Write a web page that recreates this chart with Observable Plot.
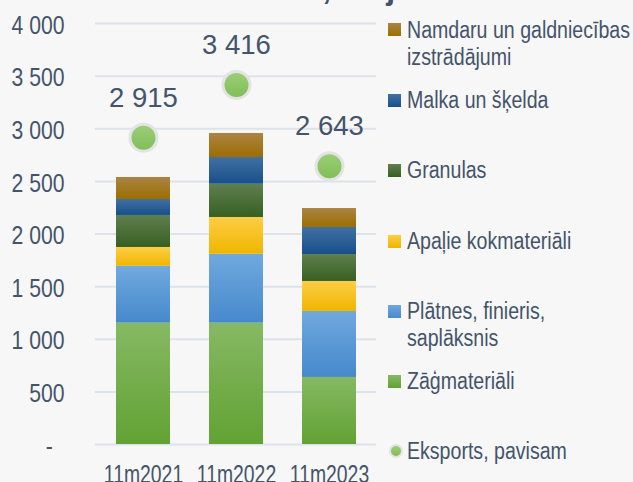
<!DOCTYPE html>
<html><head><meta charset="utf-8">
<script src="https://cdn.jsdelivr.net/npm/d3@7"></script>
<script src="https://cdn.jsdelivr.net/npm/@observablehq/plot@0.6"></script>
<style>
html,body{margin:0;padding:0;background:#f7f7f7;}
#wrap{position:relative;width:633px;height:482px;overflow:hidden;font-family:"Liberation Sans",Arial,sans-serif;color:#44546a;}
#wrap svg{position:absolute;left:0;top:0;}
.title{position:absolute;left:132px;top:-28.1px;font-weight:bold;font-size:32px;line-height:32px;color:#44546a;white-space:nowrap;}
.lg{position:absolute;left:407px;font-size:23.3px;line-height:27px;white-space:nowrap;transform:scaleX(0.84);transform-origin:0 0;}
.sw{position:absolute;left:388px;width:13px;height:13px;}
.dotlg{position:absolute;left:388.5px;width:10px;height:10px;border-radius:50%;border:2px solid #e3e3e3;background:linear-gradient(#9ccf78,#80bd56);}
</style></head><body><div id="wrap"></div>
<script>
const periods = ["11m2021", "11m2022", "11m2023"];
const categories = ["Zāģmateriāli", "Plātnes, finieris, saplāksnis", "Apaļie kokmateriāli", "Granulas", "Malka un šķelda", "Namdaru un galdniecības izstrādājumi"];
const zagmateriali = [1153, 1153, 637];
const platnes = [541, 655, 627];
const apalie = [178, 349, 285];
const granulas = [304, 316, 256];
const malka = [152, 254, 257];
const namdaru = [209, 228, 180];
const eksportsPavisam = [2915, 3416, 2643];
const totalLabel = "Eksports, pavisam";
const yTicks = [0, 500, 1000, 1500, 2000, 2500, 3000, 3500, 4000];
const titleText = "Meža nozare, milj. EUR";

const seriesValues = [zagmateriali, platnes, apalie, granulas, malka, namdaru];
// gradient stops (top, bottom) per category
const gradStops = [
  ["#86b964", "#62a233"],
  ["#70a9de", "#4689cc"],
  ["#ffcd45", "#eeb600"],
  ["#5f7f4f", "#375f22"],
  ["#4170a2", "#17508a"],
  ["#ab8444", "#9b6e00"]
];

const rows = [];
periods.forEach((p, i) => {
  categories.forEach((c, k) => rows.push({period: p, category: c, value: seriesValues[k][i]}));
});
const totals = periods.map((p, i) => ({period: p, value: eksportsPavisam[i]}));

const locale = d3.formatLocale({decimal: ",", thousands: " ", grouping: [3], currency: ["", ""]});
const fmt = locale.format(",");

const wrap = document.getElementById("wrap");

const plot = Plot.plot({
  width: 633, height: 482,
  marginLeft: 95, marginRight: 257, marginTop: 23, marginBottom: 38,
  style: {background: "transparent", fontFamily: '"Liberation Sans",Arial,sans-serif', fontSize: "24px", color: "#44546a", overflow: "visible"},
  x: {domain: periods, paddingInner: 0.42, paddingOuter: 0.21, axis: null},
  y: {domain: [0, 4000], axis: null},
  color: {type: "ordinal", domain: categories, range: categories.map((c, k) => `url(#grad${k})`)},
  marks: [
    Plot.gridY(yTicks, {stroke: "#dde3ea", strokeOpacity: 1, strokeWidth: 2}),
    Plot.barY(rows, {x: "period", y: "value", fill: "category"}),
    Plot.dot(totals, {x: "period", y: "value", r: 13.5, fill: "url(#gradDot)", stroke: "#e3e3e3", strokeWidth: 3}),
    Plot.text(totals, {x: "period", y: "value", text: d => fmt(d.value), dy: -31, lineAnchor: "bottom", fontSize: 27.5, fill: "#44546a", ariaLabel: "value label"}),
    Plot.axisY(yTicks, {tickSize: 0, tickPadding: 31, dy: 2, fontSize: 25.5, fill: "#44546a", label: null,
      tickFormat: d => d === 0 ? "-\u00a0\u00a0" : fmt(d)}),
    Plot.axisX(periods, {tickSize: 0, tickPadding: 20, fontSize: 25.5, fill: "#44546a", label: null})
  ]
});

// narrow the text horizontally around its anchor
const scaleFor = {"y-axis tick label": 0.83, "x-axis tick label": 0.76, "value label": 0.77};
plot.querySelectorAll("text").forEach(t => {
  const g = t.closest("g[aria-label]");
  const s = g ? scaleFor[g.getAttribute("aria-label")] : undefined;
  if (!s) return;
  let tr = t.getAttribute("transform");
  if (!tr) {
    const x = +t.getAttribute("x") || 0, y = +t.getAttribute("y") || 0;
    t.removeAttribute("x"); t.removeAttribute("y");
    tr = `translate(${x},${y})`;
  }
  t.setAttribute("transform", tr + ` scale(${s},1)`);
});

// gradients
const ns = "http://www.w3.org/2000/svg";
const defs = document.createElementNS(ns, "defs");
function addGrad(id, top, bottom) {
  const g = document.createElementNS(ns, "linearGradient");
  g.setAttribute("id", id);
  g.setAttribute("x1", "0"); g.setAttribute("y1", "0"); g.setAttribute("x2", "0"); g.setAttribute("y2", "1");
  [[0, top], [1, bottom]].forEach(([o, c]) => {
    const s = document.createElementNS(ns, "stop");
    s.setAttribute("offset", o); s.setAttribute("stop-color", c);
    g.appendChild(s);
  });
  defs.appendChild(g);
}
gradStops.forEach((s, k) => addGrad(`grad${k}`, s[0], s[1]));
addGrad("gradDot", "#9ccf78", "#80bd56");
plot.insertBefore(defs, plot.firstChild);
wrap.appendChild(plot);

// title (clipped at top like the reference)
const t = document.createElement("div");
t.className = "title"; t.textContent = titleText;
wrap.appendChild(t);

// legend (top to bottom: reversed stack order)
const legendItems = [
  {k: 5, lines: ["Namdaru un galdniecības", "izstrādājumi"], base: 37.7},
  {k: 4, lines: ["Malka un šķelda"], base: 108.3},
  {k: 3, lines: ["Granulas"], base: 178.3},
  {k: 2, lines: ["Apaļie kokmateriāli"], base: 249},
  {k: 1, lines: ["Plātnes, finieris,", "saplāksnis"], base: 319.3},
  {k: 0, lines: ["Zāģmateriāli"], base: 389.3}
];
legendItems.forEach(it => {
  const sw = document.createElement("div");
  sw.className = "sw";
  sw.style.top = (it.base - 14.5) + "px";
  sw.style.background = `linear-gradient(${gradStops[it.k][0]},${gradStops[it.k][1]})`;
  wrap.appendChild(sw);
  const tx = document.createElement("div");
  tx.className = "lg";
  tx.style.top = (it.base - 21.2) + "px";
  tx.innerHTML = it.lines.join("<br>");
  wrap.appendChild(tx);
});
const dl = document.createElement("div");
dl.className = "dotlg"; dl.style.top = (451 - 7) + "px";
wrap.appendChild(dl);
const dt = document.createElement("div");
dt.className = "lg"; dt.style.top = (459.3 - 21.2) + "px"; dt.textContent = totalLabel;
wrap.appendChild(dt);
</script>
</body></html>
